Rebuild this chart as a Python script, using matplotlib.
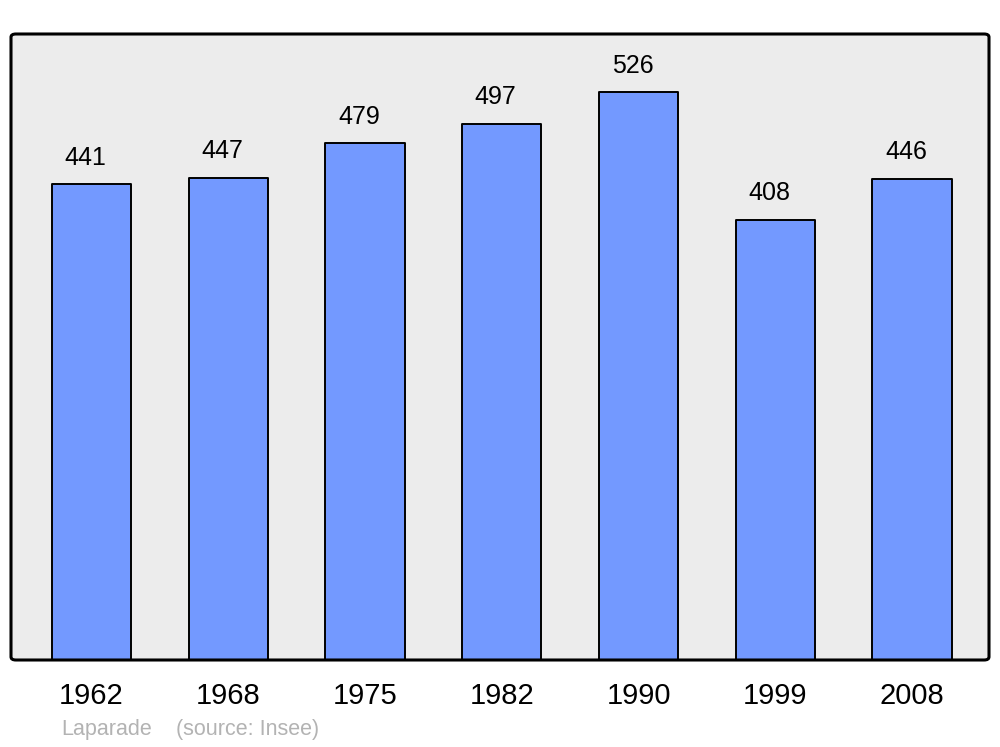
import matplotlib
matplotlib.use('Agg')
import matplotlib.pyplot as plt
from matplotlib.patches import FancyBboxPatch

# Data
years = ['1962', '1968', '1975', '1982', '1990', '1999', '2008']
population = [441, 447, 479, 497, 526, 408, 446]
commune = 'Laparade'
source = '(source: Insee)'

plt.rcParams['font.family'] = ['Liberation Sans', 'DejaVu Sans']

bar_col = '#7399ff'
bg_col = '#ececec'

fig = plt.figure(figsize=(10, 7.47), dpi=100)
ax = fig.add_axes([0.011, 1 - 660/747, 0.978, 626/747])
ax.set_facecolor('none')

# rounded grey frame behind the bars
frame = FancyBboxPatch((0, 0), 1, 1,
                       boxstyle='round,pad=0,rounding_size=0.005',
                       transform=ax.transAxes, facecolor=bg_col,
                       edgecolor='none', zorder=0, clip_on=False)
ax.add_patch(frame)
border = FancyBboxPatch((0, 0), 1, 1,
                        boxstyle='round,pad=0,rounding_size=0.005',
                        transform=ax.transAxes, facecolor='none',
                        edgecolor='black', linewidth=2.2, zorder=3, clip_on=False)
ax.add_patch(border)

x = list(range(len(years)))
bars = ax.bar(x, population, width=0.58, color=bar_col, edgecolor='black',
              linewidth=1.4, zorder=2)
for b in bars:
    b.set_joinstyle('round')

for xi, v in zip(x, population):
    ax.text(xi - 0.045, v + 18, str(v), ha='center', va='baseline',
            fontsize=18, color='black')

ax.set_xlim(-0.589, 6.563)
ax.set_ylim(0, 580)
ax.set_xticks(x)
ax.set_xticklabels(years, fontsize=21)
ax.tick_params(axis='x', length=0, pad=16)
ax.set_yticks([])
for s in ax.spines.values():
    s.set_visible(False)

fig.text(0.061, 1 - 730/747, commune, fontsize=15.5, color='#b3b3b3', va='center')
fig.text(0.176, 1 - 730/747, source, fontsize=15.5, color='#b3b3b3', va='center')

fig.savefig('out.png', dpi=100)
